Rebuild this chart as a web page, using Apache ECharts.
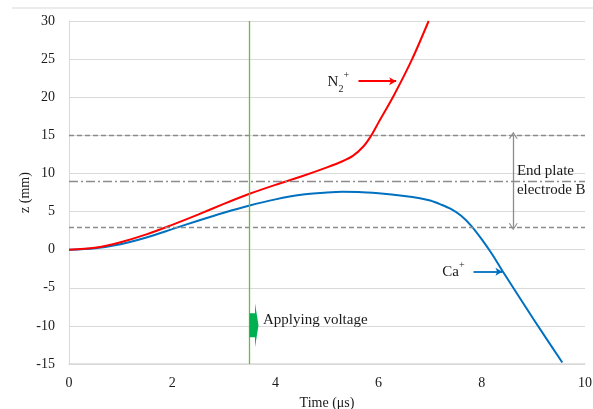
<!DOCTYPE html>
<html>
<head>
<meta charset="utf-8">
<script src="https://cdn.jsdelivr.net/npm/echarts@6/dist/echarts.min.js"></script>
<style>
  html, body { margin: 0; padding: 0; background: #fff; }
  #main { width: 593px; height: 409px; }
</style>
</head>
<body>
<div id="main"></div>
<script>
// 軌道データ (時間 μs, z mm)
const timeN2 = [0, 0.5, 1, 1.5, 2, 2.5, 3, 3.5, 4, 4.5, 5, 5.3, 5.5, 5.7, 5.85, 6, 6.3, 6.65, 6.97];
const zN2 = [0, 0.25, 0.98, 2.0, 3.26, 4.6, 6.0, 7.33, 8.5, 9.6, 10.8, 11.6, 12.3, 13.5, 14.9, 16.7, 20.3, 25, 30];

const timeCa = [0, 0.5, 1, 1.5, 2, 2.5, 3, 3.5, 4, 4.5, 5, 5.3, 5.6, 6, 6.5, 6.8, 7.0, 7.2, 7.4, 7.6, 7.8, 8, 8.2, 8.42, 9, 9.56];
const zCa = [0, 0.2, 0.72, 1.6, 2.69, 3.8, 4.85, 5.8, 6.6, 7.2, 7.5, 7.6, 7.58, 7.4, 7.05, 6.75, 6.45, 5.95, 5.35, 4.45, 3.1, 1.35, -0.6, -3.0, -9.1, -14.8];

// 電極の位置と電圧印加時刻
const plateLevels = [15, 9, 3];
const voltageTime = 3.5;

const xTicks = { min: 0, max: 10, interval: 2 };
const yTicks = { min: -15, max: 30, interval: 5 };

const font = "'Liberation Serif', 'Times New Roman', serif";
const textColor = "#1a1a1a";

const chartDom = document.getElementById("main");
const myChart = echarts.init(chartDom);

function pairs(xs, ys) {
  return xs.map((x, i) => [x, ys[i]]);
}

const refLines = plateLevels.map((v, i) => ({
  yAxis: v,
  lineStyle: {
    color: "#8c8c8c",
    width: 1.3,
    type: i === 1 ? [9, 3, 2, 3] : [5, 3]
  }
}));

const chevron = "path://M0,10 L5,0 L10,10 L8.6,10 L5,3 L1.4,10 Z";
const blockArrow = "path://M0,10 L5.5,10 L5.5,0 L9,22 L5.5,44 L5.5,34 L0,34 Z";

const option = {
  animation: false,
  textStyle: { fontFamily: font },
  grid: { left: 69, right: 8, top: 21, bottom: 45, outerBoundsMode: "none" },
  graphic: [
    {
      type: "line",
      shape: { x1: 12, y1: 8, x2: 593, y2: 8 },
      style: { stroke: "#ececec", lineWidth: 2 },
      silent: true
    }
  ],
  xAxis: {
    type: "value",
    min: xTicks.min,
    max: xTicks.max,
    interval: xTicks.interval,
    name: "Time (μs)",
    nameLocation: "middle",
    nameGap: 32,
    nameMoveOverlap: false,
    nameTextStyle: { fontFamily: font, fontSize: 14, color: textColor },
    axisLine: { onZero: false, lineStyle: { color: "#d9d9d9", width: 1.5 } },
    axisTick: { show: false },
    axisLabel: { margin: 12, fontFamily: font, fontSize: 14, color: textColor },
    splitLine: { show: false }
  },
  yAxis: {
    type: "value",
    min: yTicks.min,
    max: yTicks.max,
    interval: yTicks.interval,
    name: "z (mm)",
    nameLocation: "middle",
    nameRotate: 90,
    nameGap: 37,
    nameMoveOverlap: false,
    nameTextStyle: { fontFamily: font, fontSize: 14, color: textColor },
    axisLine: { show: true, lineStyle: { color: "#d9d9d9", width: 1 } },
    axisTick: { show: false },
    axisLabel: { margin: 14, fontFamily: font, fontSize: 14, color: textColor },
    splitLine: { lineStyle: { color: "#d9d9d9", width: 1 } }
  },
  series: [
    {
      name: "Ca+",
      type: "line",
      data: pairs(timeCa, zCa),
      smooth: 0.3,
      showSymbol: false,
      silent: true,
      lineStyle: { color: "#0070c0", width: 2 },
      z: 3
    },
    {
      name: "N2+",
      type: "line",
      data: pairs(timeN2, zN2),
      smooth: 0.3,
      showSymbol: false,
      silent: true,
      lineStyle: { color: "#ff0000", width: 2 },
      z: 4
    },
    {
      // 注釈用
      name: "notes",
      type: "line",
      data: [],
      silent: true,
      z: 2,
      markLine: {
        silent: true,
        symbol: "none",
        label: { show: false },
        data: refLines.concat([
          { xAxis: voltageTime, lineStyle: { color: "#6cbb3c", width: 1.3, type: "solid" } },
          [
            { coord: [5.61, 22.1], symbol: "none" },
            { coord: [6.34, 22.1], symbol: "arrow", symbolSize: [6, 7], lineStyle: { color: "#ff0000", width: 1.8, type: "solid" } }
          ],
          [
            { coord: [7.84, -2.9], symbol: "none" },
            { coord: [8.4, -2.9], symbol: "arrow", symbolSize: [6, 7], lineStyle: { color: "#0070c0", width: 1.8, type: "solid" } }
          ],
          [
            { coord: [8.61, 15], symbol: chevron, symbolSize: [9, 7] },
            { coord: [8.61, 3], symbol: chevron, symbolSize: [9, 7], lineStyle: { color: "#8c8c8c", width: 1.3, type: "solid" } }
          ]
        ])
      },
      markPoint: {
        silent: true,
        symbol: "circle",
        symbolSize: 0,
        label: { show: true, fontFamily: font, color: textColor, fontSize: 14 },
        data: [
          {
            coord: [5.22, 22.0],
            label: {
              formatter: "{a|N}{b|2}{c|+}",
              rich: {
                a: { fontFamily: font, fontSize: 15, color: textColor, lineHeight: 24, verticalAlign: "middle" },
                b: { fontFamily: font, fontSize: 10, color: textColor, lineHeight: 24, verticalAlign: "bottom" },
                c: { fontFamily: font, fontSize: 10, color: textColor, lineHeight: 24, verticalAlign: "top" }
              }
            }
          },
          {
            coord: [7.45, -2.9],
            label: {
              formatter: "{a|Ca}{c|+}",
              rich: {
                a: { fontFamily: font, fontSize: 15, color: textColor, lineHeight: 22, verticalAlign: "middle" },
                c: { fontFamily: font, fontSize: 10, color: textColor, lineHeight: 22, verticalAlign: "top" }
              }
            }
          },
          {
            coord: [8.68, 9.1],
            label: {
              formatter: "End plate\nelectrode B",
              position: "right",
              distance: 0,
              align: "left",
              lineHeight: 19,
              fontSize: 15
            }
          },
          {
            coord: [3.76, -9.2],
            label: {
              formatter: "Applying voltage",
              position: "right",
              distance: 0,
              align: "left",
              fontSize: 15
            }
          },
          {
            coord: [3.585, -9.9],
            symbol: blockArrow,
            symbolSize: [9, 44],
            itemStyle: { color: "#00b050" },
            label: { show: false }
          }
        ]
      }
    }
  ]
};

option && myChart.setOption(option);
</script>
</body>
</html>
